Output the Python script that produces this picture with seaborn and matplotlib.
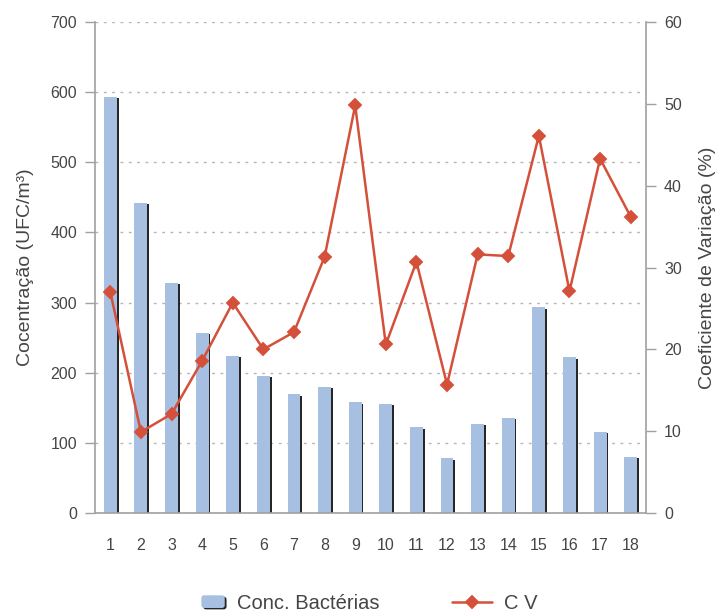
import matplotlib
matplotlib.use("Agg")
import matplotlib.pyplot as plt
import matplotlib.patheffects as pe
from matplotlib.ticker import FixedLocator
from matplotlib.legend_handler import HandlerPatch
from matplotlib.patches import FancyBboxPatch, Rectangle
import seaborn as sns
import pandas as pd

# ---- data ----
categories = [str(i) for i in range(1, 19)]
conc_bacterias = [593, 442, 328, 257, 224, 196, 169, 180, 158, 156, 122, 78, 127, 136, 293, 222, 116, 80]
cv_values = [27.0, 9.9, 12.1, 18.6, 25.7, 20.0, 22.1, 31.3, 49.8, 20.6, 30.7, 15.7, 31.6, 31.4, 46.1, 27.1, 43.3, 36.2]
left_ticks = [0, 100, 200, 300, 400, 500, 600, 700]
right_ticks = [0, 10, 20, 30, 40, 50, 60]
bar_label = "Conc. Bactérias"
line_label = "C V"
left_ylabel = "Cocentração (UFC/m³)"
right_ylabel = "Coeficiente de Variação (%)"

df = pd.DataFrame({"cat": categories, "conc": conc_bacterias, "cv": cv_values})

sns.set_style("white")
plt.rcParams["font.family"] = ["Liberation Sans", "DejaVu Sans"]

BAR_COLOR = "#a7bfe1"
LINE_COLOR = "#d5503a"
AXIS_COLOR = "#a0a0a0"
TEXT_COLOR = "#454545"

fig = plt.figure(figsize=(7.15, 6.13), dpi=100)
ax = fig.add_axes([95/715, 1-513/613, (646-95)/715, (513-22)/613])

sns.barplot(data=df, x="cat", y="conc", color=BAR_COLOR, width=0.42,
            saturation=1, ax=ax, zorder=2, label=bar_label)
for p in ax.patches:
    p.set_edgecolor("none")
    p.set_path_effects([pe.SimplePatchShadow(offset=(1.3, -1.0), shadow_rgbFace="#1a1a1a", alpha=0.95),
                        pe.Normal()])

ax2 = ax.twinx()
sns.pointplot(data=df, x="cat", y="cv", color=LINE_COLOR, markers="D",
              errorbar=None, ax=ax2, markersize=6, linewidth=1.8, label=line_label)

for a in (ax, ax2):
    a.set_xlim(-0.5, len(categories) - 0.5)
ax.set_ylim(0, 700)
ax2.set_ylim(0, 60)

ax.set_yticks(left_ticks)
ax2.set_yticks(right_ticks)
ax.set_xticks(range(len(categories)))
ax.set_xticklabels(categories)
ax.xaxis.set_minor_locator(FixedLocator([i - 0.5 for i in range(len(categories) + 1)]))

ax.grid(False)
ax2.grid(False)
for y in left_ticks[1:]:
    ax.axhline(y, color="#b5b5b5", lw=1.0, ls=(0, (2, 4)), zorder=1)

for a in (ax, ax2):
    for s in a.spines.values():
        s.set_color(AXIS_COLOR)
        s.set_linewidth(1.2)
    a.spines["top"].set_visible(False)
ax.spines["right"].set_visible(False)
ax2.spines["left"].set_visible(False)
ax2.spines["bottom"].set_visible(False)

ax.tick_params(axis="x", which="major", length=0, pad=18, labelsize=11.5, labelcolor=TEXT_COLOR)
ax.tick_params(axis="x", which="minor", length=15, width=1.0, color=AXIS_COLOR, direction="out")
ax.tick_params(axis="y", length=7, width=1.0, color=AXIS_COLOR, pad=6, labelsize=11.5, labelcolor=TEXT_COLOR)
ax2.tick_params(axis="y", length=7, width=1.0, color=AXIS_COLOR, pad=6, labelsize=11.5, labelcolor=TEXT_COLOR)

ax.set_xlabel("")
ax.set_ylabel(left_ylabel, fontsize=14, color=TEXT_COLOR, labelpad=12)
ax2.set_ylabel(right_ylabel, fontsize=14, color=TEXT_COLOR, labelpad=12)

for a in (ax, ax2):
    lg = a.get_legend()
    if lg is not None:
        lg.remove()


def small_bar(legend, orig_handle, xdescent, ydescent, width, height, fontsize):
    w = width * 0.58
    h = height * 0.9
    return FancyBboxPatch((-xdescent + width - w, -ydescent + (height - h) / 2), w, h,
                          boxstyle="round,pad=0,rounding_size=2",
                          facecolor=BAR_COLOR, edgecolor="none",
                          path_effects=[pe.SimplePatchShadow(offset=(1.0, -1.0), shadow_rgbFace="#333333", alpha=0.9),
                                        pe.Normal()])


bar_handle = ax.patches[0]
line_handle = ax2.lines[0]
fig.legend(handles=[bar_handle, line_handle], labels=[bar_label, line_label],
           loc="center", bbox_to_anchor=(0.505, 0.016), ncol=2, frameon=False,
           fontsize=14.5, handlelength=2.0, handletextpad=0.6, columnspacing=3.6,
           labelcolor=TEXT_COLOR,
           handler_map={Rectangle: HandlerPatch(patch_func=small_bar)})

fig.savefig("out.png", dpi=100)
